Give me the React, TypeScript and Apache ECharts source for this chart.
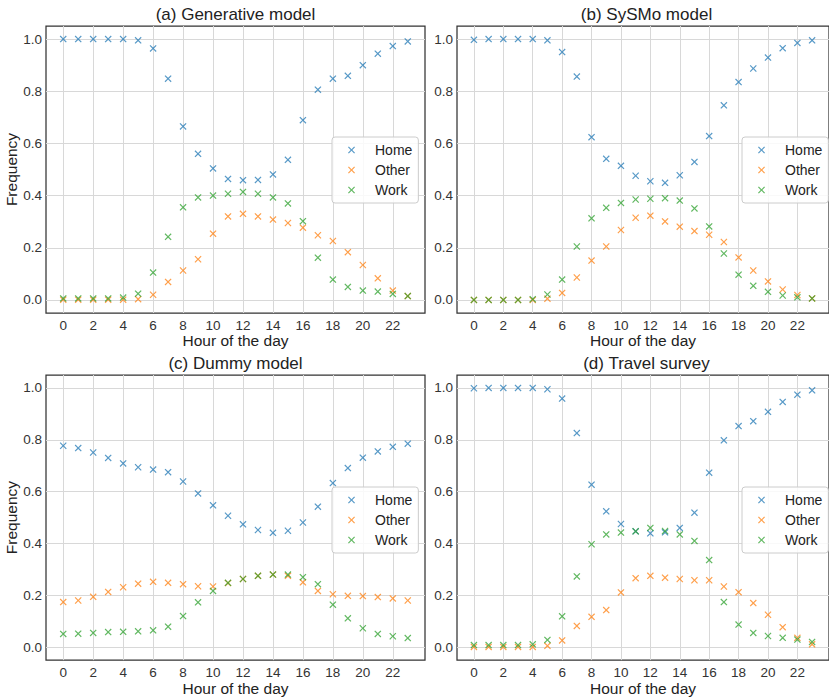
import React, { useEffect, useRef } from "react";
import * as echarts from "echarts";

const hours = [0, 1, 2, 3, 4, 5, 6, 7, 8, 9, 10, 11, 12, 13, 14, 15, 16, 17, 18, 19, 20, 21, 22, 23];
const xTicks = [0, 2, 4, 6, 8, 10, 12, 14, 16, 18, 20, 22];
const yTicks = [0, 0.2, 0.4, 0.6, 0.8, 1.0];
const seriesNames = ["Home", "Other", "Work"];
const panelTitles = ["(a) Generative model", "(b) SySMo model", "(c) Dummy model", "(d) Travel survey"];

// (a) Generative model
const genHome = [1.0, 1.0, 1.0, 1.0, 1.0, 0.995, 0.964, 0.848, 0.665, 0.56, 0.504, 0.464, 0.459, 0.46, 0.481, 0.537, 0.689, 0.806, 0.848, 0.859, 0.9, 0.944, 0.973, 0.991];
const genOther = [0.001, 0.001, 0.001, 0.001, 0.001, 0.003, 0.02, 0.069, 0.113, 0.156, 0.254, 0.32, 0.33, 0.32, 0.308, 0.295, 0.277, 0.248, 0.226, 0.183, 0.134, 0.083, 0.036, 0.015];
const genWork = [0.006, 0.006, 0.006, 0.006, 0.009, 0.024, 0.105, 0.242, 0.355, 0.393, 0.4, 0.407, 0.414, 0.407, 0.393, 0.37, 0.302, 0.162, 0.078, 0.05, 0.036, 0.032, 0.023, 0.015];

// (b) SySMo model
const sysHome = [0.997, 1.0, 1.0, 1.0, 1.0, 0.995, 0.95, 0.856, 0.624, 0.541, 0.514, 0.476, 0.455, 0.449, 0.478, 0.529, 0.628, 0.746, 0.835, 0.887, 0.929, 0.965, 0.985, 0.995];
const sysOther = [0.0, 0.0, 0.0, 0.0, 0.0, 0.005, 0.027, 0.086, 0.151, 0.205, 0.268, 0.315, 0.323, 0.301, 0.281, 0.264, 0.25, 0.222, 0.163, 0.113, 0.071, 0.04, 0.019, 0.006];
const sysWork = [0.0, 0.0, 0.0, 0.0, 0.003, 0.021, 0.078, 0.205, 0.313, 0.353, 0.372, 0.385, 0.388, 0.39, 0.381, 0.351, 0.282, 0.178, 0.097, 0.054, 0.031, 0.017, 0.01, 0.006];

// (c) Dummy model
const dumHome = [0.777, 0.768, 0.751, 0.73, 0.709, 0.694, 0.685, 0.675, 0.639, 0.593, 0.547, 0.507, 0.474, 0.452, 0.441, 0.449, 0.481, 0.542, 0.633, 0.691, 0.731, 0.755, 0.773, 0.785];
const dumOther = [0.174, 0.18, 0.194, 0.213, 0.231, 0.245, 0.252, 0.248, 0.243, 0.235, 0.234, 0.247, 0.263, 0.275, 0.28, 0.275, 0.25, 0.217, 0.204, 0.198, 0.197, 0.193, 0.188, 0.18];
const dumWork = [0.051, 0.052, 0.055, 0.058, 0.059, 0.061, 0.065, 0.079, 0.12, 0.173, 0.217, 0.248, 0.263, 0.275, 0.28, 0.28, 0.27, 0.243, 0.164, 0.111, 0.073, 0.051, 0.042, 0.035];

// (d) Travel survey
const surHome = [0.999, 1.0, 1.0, 1.0, 1.0, 0.995, 0.959, 0.826, 0.627, 0.524, 0.475, 0.447, 0.439, 0.443, 0.46, 0.519, 0.673, 0.798, 0.853, 0.872, 0.908, 0.946, 0.974, 0.991];
const surOther = [0.001, 0.001, 0.001, 0.001, 0.001, 0.005, 0.026, 0.082, 0.117, 0.143, 0.211, 0.266, 0.275, 0.268, 0.263, 0.258, 0.258, 0.234, 0.212, 0.17, 0.125, 0.077, 0.036, 0.011];
const surWork = [0.008, 0.008, 0.008, 0.008, 0.011, 0.028, 0.119, 0.273, 0.397, 0.435, 0.442, 0.447, 0.46, 0.448, 0.435, 0.41, 0.336, 0.174, 0.087, 0.055, 0.043, 0.036, 0.029, 0.02];

const panelData = [
  [genHome, genOther, genWork],
  [sysHome, sysOther, sysWork],
  [dumHome, dumOther, dumWork],
  [surHome, surOther, surWork],
];

const colors = ["#1f77b4", "#ff7f0e", "#2ca02c"];

const t = 12;
const X_PATH =
  `path://M0,${t}L${t},0L50,${50 - t}L${100 - t},0L100,${t}L${50 + t},50L100,${100 - t}L${100 - t},100L50,${50 + t}L${t},100L0,${100 - t}L${50 - t},50Z`;

const FONT = "Arial, 'Liberation Sans', Helvetica, sans-serif";

// layout (pixels)
const grids = [
  { left: 46, top: 26, width: 379, height: 287 },
  { left: 457, top: 26, width: 379, height: 287 },
  { left: 46, top: 375, width: 379, height: 287 },
  { left: 457, top: 375, width: 379, height: 287 },
];
const legendPos = [
  { left: 332, top: 137 },
  { left: 742, top: 137 },
  { left: 332, top: 487 },
  { left: 742, top: 487 },
];

export default function App() {
  const ref = useRef<HTMLDivElement>(null);
  useEffect(() => {
    if (!ref.current) return;
    const chart = echarts.init(ref.current, undefined, { renderer: "svg" });

    const xAxis = grids.map((_, i) => ({
      type: "value",
      gridIndex: i,
      min: -1.15,
      max: 24.15,
      name: "Hour of the day",
      nameLocation: "middle",
      nameGap: 19,
      nameTextStyle: { fontSize: 15.5, color: "#222", fontFamily: FONT },
      axisLine: { show: false },
      axisTick: { show: false, customValues: xTicks },
      axisLabel: { customValues: xTicks, fontSize: 13.5, color: "#333", margin: 5, fontFamily: FONT },
      splitLine: { show: true, lineStyle: { color: "#d8d8d8", width: 1 } },
    }));
    const yAxis = grids.map((_, i) => ({
      type: "value",
      gridIndex: i,
      min: -0.05,
      max: 1.05,
      name: i % 2 === 0 ? "Frequency" : "",
      nameLocation: "middle",
      nameGap: 25,
      nameTextStyle: { fontSize: 15.5, color: "#222", fontFamily: FONT },
      axisLine: { show: false },
      axisTick: { show: false, customValues: yTicks },
      axisLabel: {
        customValues: yTicks,
        fontSize: 13.5,
        color: "#333",
        margin: 4,
        fontFamily: FONT,
        formatter: (v: number) => v.toFixed(1),
      },
      splitLine: { show: true, lineStyle: { color: "#d8d8d8", width: 1 } },
    }));

    const series: any[] = [];
    panelData.forEach((panel, i) => {
      panel.forEach((vals, k) => {
        series.push({
          type: "scatter",
          name: seriesNames[k],
          xAxisIndex: i,
          yAxisIndex: i,
          symbol: X_PATH,
          symbolSize: 7,
          itemStyle: { color: colors[k], opacity: 0.75 },
          data: hours.map((h, j) => [h, vals[j]]),
          z: 3 + k,
        });
      });
    });

    const legend = legendPos.map((p) => ({
      left: p.left,
      top: p.top,
      orient: "vertical",
      data: seriesNames,
      icon: X_PATH,
      itemWidth: 7,
      itemHeight: 7,
      itemGap: 6,
      selectedMode: false,
      backgroundColor: "rgba(255,255,255,0.85)",
      borderColor: "#cccccc",
      borderWidth: 1,
      borderRadius: 3,
      padding: [6, 6, 6, 16],
      textStyle: { fontSize: 14, color: "#222", fontFamily: FONT, padding: [0, 0, 0, 15] },
    }));

    const titleGraphics = grids.map((g, i) => ({
      type: "text",
      x: g.left + g.width / 2,
      y: g.top - 12,
      style: {
        text: panelTitles[i],
        align: "center",
        verticalAlign: "middle",
        fontSize: 17,
        fill: "#222",
        fontFamily: FONT,
      },
    }));

    chart.setOption({
      animation: false,
      backgroundColor: "#ffffff",
      grid: grids.map((g) => ({
        ...g,
        show: true,
        borderColor: "#333333",
        borderWidth: 1.25,
        backgroundColor: "transparent",
      })),
      xAxis,
      yAxis,
      legend,
      series,
      graphic: titleGraphics,
    } as any);

    return () => chart.dispose();
  }, []);

  return (
    <div
      ref={ref}
      style={{ position: "fixed", left: 0, top: 0, width: 829, height: 697, background: "#fff" }}
    />
  );
}
